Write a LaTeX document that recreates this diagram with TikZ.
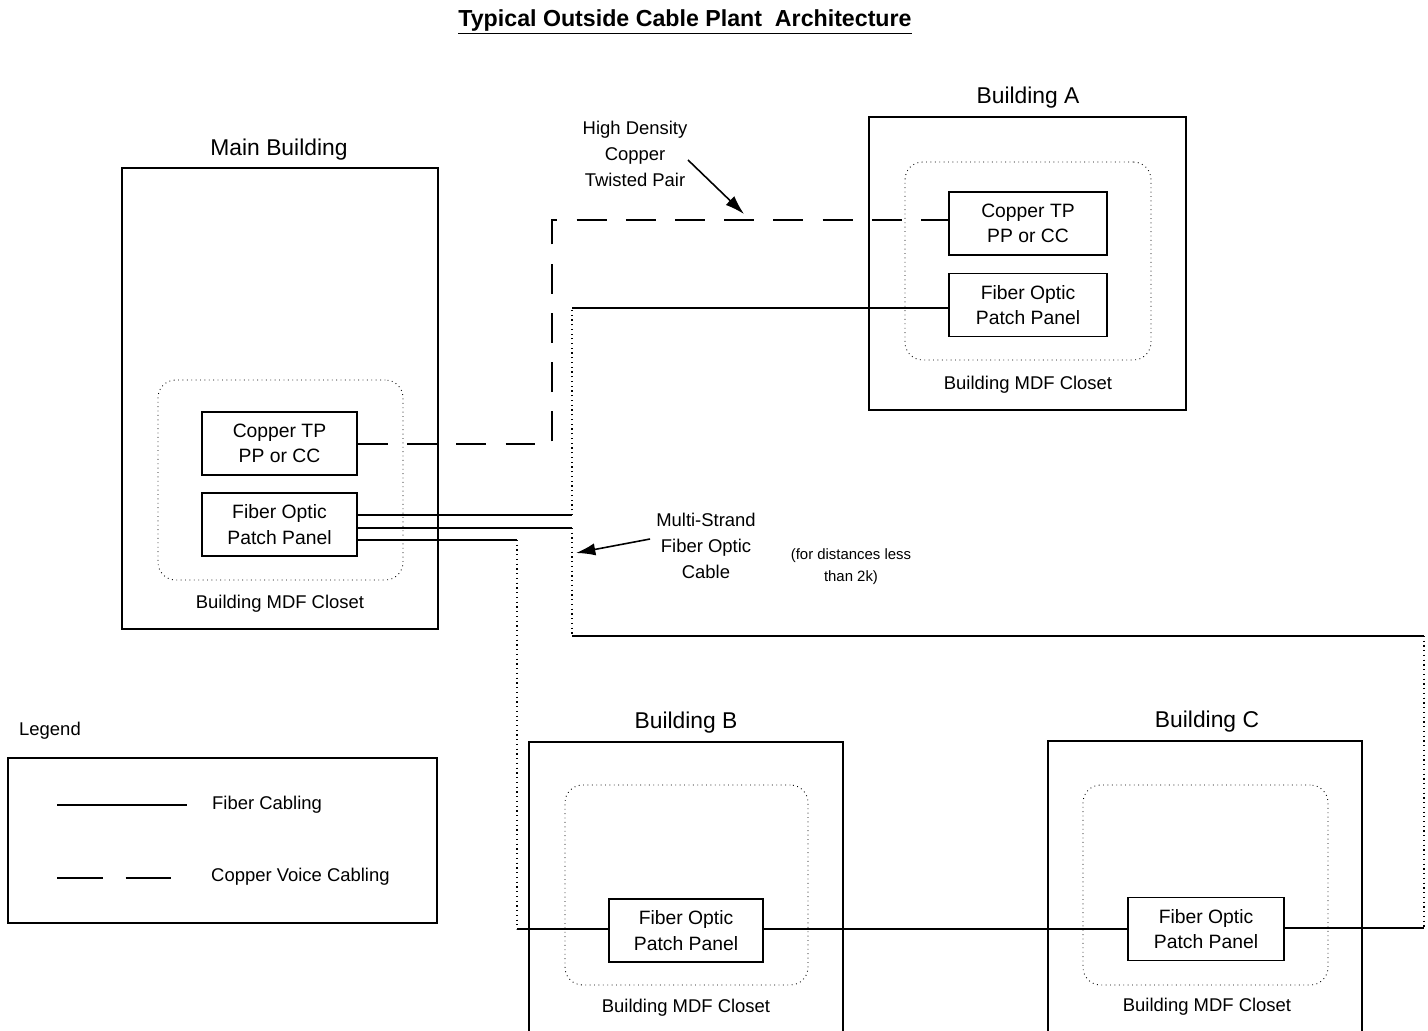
\documentclass[tikz,border=0pt]{standalone}
\usepackage{fontspec}
\setmainfont{Liberation Sans}
\usetikzlibrary{calc}
\usetikzlibrary{arrows.meta}

\begin{document}
\begin{tikzpicture}[x=0.02cm,y=-0.02cm,
  bldg/.style={draw,line width=1.1pt,inner sep=0pt},
  closet/.style={draw,dotted,line width=0.5pt,rounded corners=10pt,inner sep=0pt},
  panel/.style={draw,line width=1.1pt,fill=white,align=center,inner sep=0pt,
    minimum width=3.1cm,minimum height=1.26cm,font=\fontsize{11}{14.5}\selectfont},
  bname/.style={font=\fontsize{13}{15}\selectfont},
  cname/.style={font=\fontsize{10.5}{12}\selectfont},
  note/.style={align=center,font=\fontsize{10.5}{15}\selectfont},
  fiber/.style={line width=1.2pt},
  riser/.style={dotted,line width=0.7pt},
  pointer/.style={line width=0.9pt,-{Latex[length=11pt,width=7pt]}},
  copper/.style={line width=1.6pt,dash pattern=on 17pt off 11pt}]
  % Boundary
  \useasboundingbox (0,0) rectangle (1428,1031);
  % Title
  \node[font=\bfseries\fontsize{13.2}{15}\selectfont] (title) at (685,22)
    {\underline{Typical Outside Cable Plant\ \ Architecture}};
  % Main building
  \node[bldg,minimum width=6.32cm,minimum height=9.22cm] (main) at (280,398.5) {};
  \node[bname] (mainlbl) at (279,150) {Main Building};
  \node[closet,minimum width=4.9cm,minimum height=4cm] (mcl) at (280.5,480) {};
  \node[cname] (mcllbl) at (280,604) {Building MDF Closet};
  \node[panel] (mcu) at (279.5,443.5) {Copper TP\\PP or CC};
  \node[panel] (mfo) at (279.5,524.5) {Fiber Optic\\Patch Panel};
  % Building A
  \node[bldg,minimum width=6.34cm,minimum height=5.86cm] (bla) at (1027.5,263.5) {};
  \node[bname] (blalbl) at (1028,98) {Building A};
  \node[closet,minimum width=4.92cm,minimum height=3.96cm] (acl) at (1028,261) {};
  \node[cname] (acllbl) at (1028,385) {Building MDF Closet};
  \node[panel,minimum width=3.16cm] (acu) at (1028,223.5) {Copper TP\\PP or CC};
  \node[panel,minimum width=3.16cm] (afo) at (1028,305) {Fiber Optic\\Patch Panel};
  % Building B
  \draw[line width=1.1pt] (529,1031) -- (529,742) -- (843,742) -- (843,1031);
  \node[bname] (blblbl) at (686,723) {Building B};
  \node[closet,minimum width=4.86cm,minimum height=4cm] (bcl) at (686.5,885) {};
  \node[cname] (bcllbl) at (686,1008) {Building MDF Closet};
  % Building C
  \draw[line width=1.1pt] (1048,1031) -- (1048,741) -- (1362,741) -- (1362,1031);
  \node[bname] (blclbl) at (1207,722) {Building C};
  \node[closet,minimum width=4.9cm,minimum height=4cm] (ccl) at (1205.5,885) {};
  \node[cname] (ccllbl) at (1207,1007) {Building MDF Closet};
  % Corner points of the cable runs
  \coordinate (c1) at (552,444);
  \coordinate (c2) at (552,220);
  \coordinate (f1) at (572,515);
  \coordinate (f2) at (572,308);
  \coordinate (g1) at (572,528);
  \coordinate (g2) at (572,636);
  \coordinate (g3) at (1424,636);
  \coordinate (g4) at (1424,928);
  \coordinate (h1) at (517,540);
  \coordinate (h2) at (517,929);
  % Copper run
  \draw[copper] (mcu.east |- c1) -- (c1) -- (c2) -- (acu.west |- c2);
  % Fiber runs
  \draw[fiber] (mfo.east |- f1) -- (f1);
  \draw[riser] (f1) -- (f2);
  \draw[fiber] (f2) -- (afo.west |- f2);
  \draw[fiber] (mfo.east |- g1) -- (g1);
  \draw[riser] (g1) -- (g2);
  \draw[fiber] (g2) -- (g3);
  \draw[riser] (g3) -- (g4);
  \draw[fiber] (mfo.east |- h1) -- (h1);
  \draw[riser] (h1) -- (h2);
  \node[panel,minimum width=3.08cm] (bfo) at (686,930.5) {Fiber Optic\\Patch Panel};
  \node[panel,minimum width=3.12cm] (cfo) at (1206,929) {Fiber Optic\\Patch Panel};
  \draw[fiber] (h2) -- (bfo.west |- h2);
  \draw[fiber] (bfo.east |- h2) -- (cfo.west |- h2);
  \draw[fiber] (cfo.east |- g4) -- (g4);
  % Notes
  \node[note] (hdnote) at (635,154) {High Density\\Copper\\Twisted Pair};
  \coordinate (hdtip) at (744,214);
  \draw[pointer] (688,160) -- (hdtip);
  \node[note] (msnote) at (706,546) {Multi-Strand\\Fiber Optic\\Cable};
  \coordinate (mstip) at (576,553);
  \draw[pointer] (msnote.west |- 0,539) -- (mstip);
  \node[align=center,font=\fontsize{8.5}{12.5}\selectfont] (dist) at (851,567)
    {(for distances less\\than 2k)};
  % Legend
  \node[font=\fontsize{10.5}{12}\selectfont] (leglbl) at (50,731) {Legend};
  \node[draw,line width=0.8pt,minimum width=8.58cm,minimum height=3.3cm] (legend) at (222.5,840.5) {};
  \coordinate (l1) at (57,805);
  \coordinate (l2) at (57,878);
  \node[cname,anchor=west] (lfib) at (206,805) {Fiber Cabling};
  \node[cname,anchor=west] (lcop) at (205,877) {Copper Voice Cabling};
  \draw[fiber] (l1) -- (187,805);
  \draw[line width=1.2pt,dash pattern=on 26pt off 13pt] (l2) -- (175,878);
\end{tikzpicture}
\end{document}
